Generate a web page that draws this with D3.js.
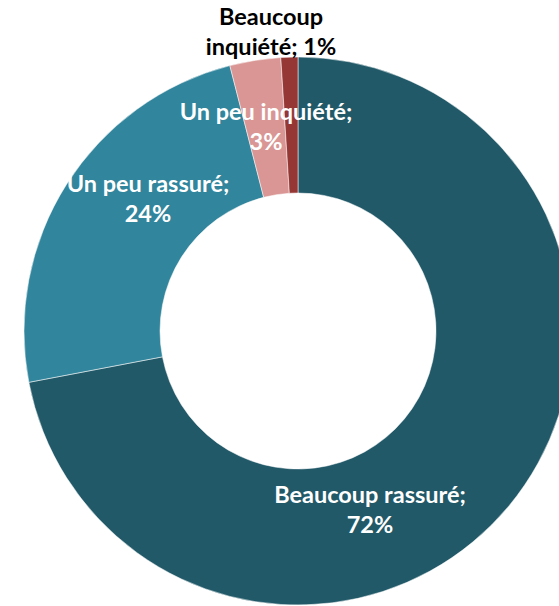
<!DOCTYPE html>
<html lang="fr">
<head>
  <meta charset="utf-8">
  <title>Donut</title>
  <script src="https://cdnjs.cloudflare.com/ajax/libs/d3/7.8.5/d3.min.js"></script>
  <style>
  body { margin: 0; background: #fff; overflow: hidden; }
  .lbl { font-family: 'Lato'; font-weight: bold; font-size: 23.5px; }
  </style>
</head>
<body>
  <svg id="chart"></svg>
  <script>
  var categories = ["Beaucoup rassuré", "Un peu rassuré", "Un peu inquiété", "Beaucoup inquiété"];
  var values = [72, 24, 3, 1];
  var colors = ["#215968", "#31859c", "#d99694", "#953735"];
  // label lines, as printed
  var labelLines = [
    ["Beaucoup rassuré;", "72%"],
    ["Un peu rassuré;", "24%"],
    ["Un peu inquiété;", "3%"],
    ["Beaucoup", "inquiété; 1%"]
  ];

  var w = 559, h = 606;
  var cx = 298, cy = 331;
  var outerR = 274, innerR = 138;

  // where each label's first baseline sits, relative to the centre
  var labelPos = [[72, 172], [-150, -139], [-32, -211], [-27, -306]];
  var labelFill = ["#fff", "#fff", "#fff", "#000"];

  var svg = d3.select("#chart").attr("width", w).attr("height", h);
  var g = svg.append("g").attr("transform", "translate(" + cx + "," + cy + ")");

  var pie = d3.pie().sort(null).value(function(d) { return d; });
  var arc = d3.arc().innerRadius(innerR).outerRadius(outerR);

  g.selectAll("path")
    .data(pie(values))
    .enter()
    .append("path")
    .attr("d", arc)
    .style("fill", function(d, i) { return colors[i]; })
    .style("stroke", "rgba(255,255,255,0.5)")
    .style("stroke-width", 1);

  var labels = g.selectAll("text")
    .data(labelLines)
    .enter()
    .append("text")
    .attr("class", "lbl")
    .attr("text-anchor", "middle")
    .style("fill", function(d, i) { return labelFill[i]; })
    .attr("x", function(d, i) { return labelPos[i][0]; })
    .attr("y", function(d, i) { return labelPos[i][1]; });

  labels.selectAll("tspan")
    .data(function(d, i) { return d.map(function(t) { return { t: t, x: labelPos[i][0] }; }); })
    .enter()
    .append("tspan")
    .attr("x", function(d) { return d.x; })
    .attr("dy", function(d, j) { return j ? 30 : 0; })
    .text(function(d) { return d.t; });
  </script>
</body>
</html>
